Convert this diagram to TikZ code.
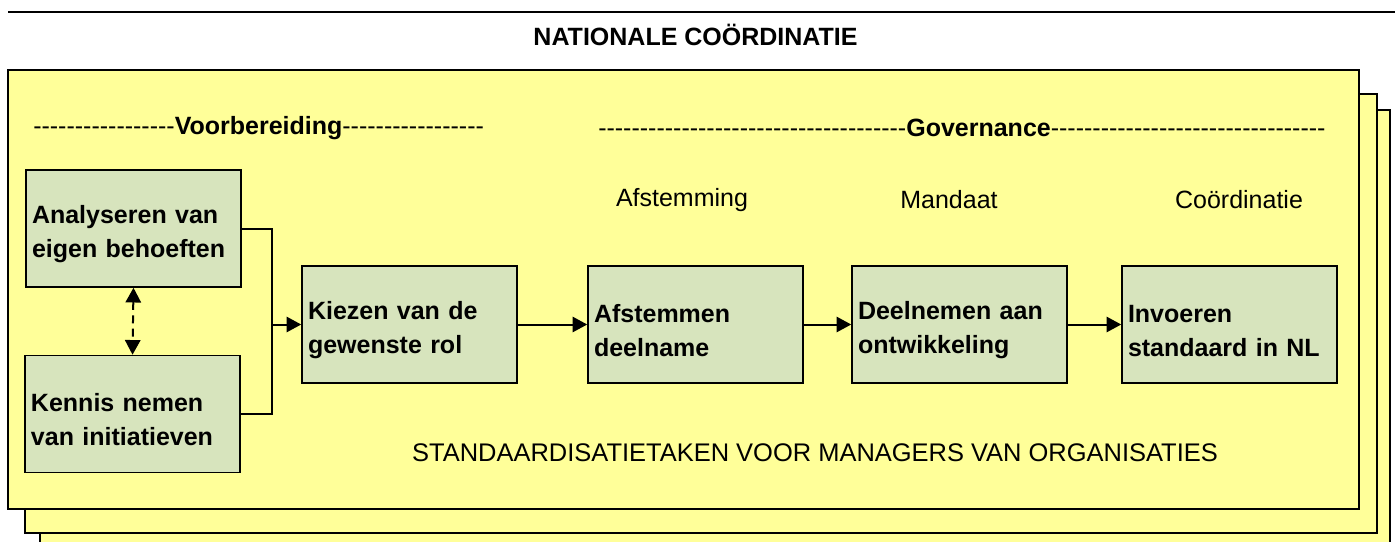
\documentclass[tikz,border=0pt]{standalone}
\usepackage{fontspec}
\setmainfont{Liberation Sans}
\usetikzlibrary{arrows.meta}
\definecolor{pageyellow}{RGB}{255,255,153}
\definecolor{boxgreen}{RGB}{215,228,189}
\newcount\mydashcount
\newcommand\mydashes[1]{\mydashcount=#1\relax\loop\ifnum\mydashcount>0 -\kern0pt\advance\mydashcount by -1\relax\repeat}
\tikzset{
  page/.style={draw=black, fill=pageyellow, line width=1.5pt},
  taskbox/.style={draw=black, fill=boxgreen, line width=1.2pt, minimum height=117*0.75pt,
    text width=203*0.75pt, inner xsep=6*0.75pt, align=left,
    font=\fontsize{18.75}{25.5}\selectfont\bfseries,
    execute at begin node={\rule{0pt}{22pt}}},
  conn/.style={line width=1.5pt, -{Triangle[length=11pt, width=11.5pt]}},
  plainline/.style={line width=1.5pt},
  lbl/.style={font=\fontsize{18.75}{22}\selectfont, inner sep=0pt},
}
\begin{document}
\begin{tikzpicture}[x=0.75pt, y=-0.75pt]
\useasboundingbox (0,0) rectangle (1395,542);
\begin{scope}
\clip (0,0) rectangle (1395,542);
% top rule and title
\coordinate (ruleL) at (8,12);
\coordinate (ruleR) at (1395,12);
\draw[line width=2pt] (ruleL) -- (ruleR);
\node[lbl, font=\fontsize{18.75}{22}\selectfont\bfseries] (title) at (695.5,35) {NATIONALE COÖRDINATIE};
% stacked pages
\draw[page] (40,110) rectangle (1390,560);
\draw[page] (25,94) rectangle (1377,533);
\draw[page] (8,70) rectangle (1359,509);
\end{scope}
% header lines
\node[lbl, anchor=west] (hvoor) at (33,128) {\mydashes{17}\textbf{Voorbereiding}\mydashes{17}};
\node[lbl, anchor=west] (hgov) at (598,128) {\mydashes{37}\textbf{Governance}\mydashes{33}};
% phase labels
\node[lbl] (lafst) at (682,200) {Afstemming};
\node[lbl] (lmand) at (949,200) {Mandaat};
\node[lbl] (lcoord) at (1239,200) {Coördinatie};
% boxes
\node[taskbox] (anal) at (133.5,228.5) {Analyseren van\\eigen behoeften};
\node[taskbox] (kenn) at (132.5,414) {Kennis nemen\\van initiatieven};
\node[taskbox] (kiez) at (409.5,324.5) {Kiezen van de\\gewenste rol};
\node[taskbox] (afst) at (695.5,324.5) {Afstemmen\\deelname};
\node[taskbox] (deel) at (959.5,324.5) {Deelnemen aan\\ontwikkeling};
\node[taskbox] (invo) at (1229.5,324.5) {Invoeren\\standaard in NL};
% bottom label
\node[lbl, font=\fontsize{19.1}{22}\selectfont] (stand) at (815,453) {STANDAARDISATIETAKEN VOOR MANAGERS VAN ORGANISATIES};
% connectors
\coordinate (junc) at (272,324.5);
\draw[plainline] (anal.east) -| (junc);
\draw[plainline] (kenn.east) -| (junc);
\draw[conn] (junc) -- (kiez.west);
\draw[conn] (kiez) -- (afst);
\draw[conn] (afst) -- (deel);
\draw[conn] (deel) -- (invo);
\draw[line width=1.5pt, dash pattern=on 6pt off 4pt,
  {Triangle[length=11pt, width=11.5pt]}-{Triangle[length=11pt, width=11.5pt]}]
  (anal.south) -- (kenn.north);
\end{tikzpicture}
\end{document}
